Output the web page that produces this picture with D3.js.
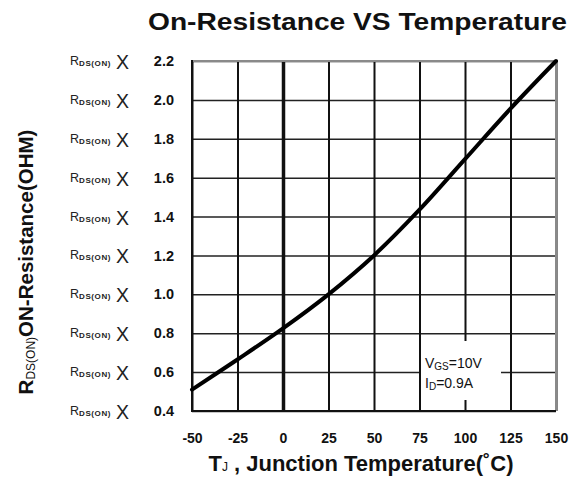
<!DOCTYPE html>
<html>
<head>
<meta charset="utf-8">
<script src="https://cdn.jsdelivr.net/npm/d3@7"></script>
<style>
	body { margin:0; background:#fff; }
	svg { display:block; font-family:"Liberation Sans", Arial, sans-serif; }
	.axis path { display:none; }
</style>
</head>
<body>
<div id="c-chart"></div>
<script>

//data
const temps = [-50, -25, 0, 25, 50, 75, 100, 125, 150];
const rdsOn = [0.51, 0.665, 0.825, 1.0, 1.2, 1.435, 1.695, 1.955, 2.2];
const xTicks = [-50, -25, 0, 25, 50, 75, 100, 125, 150];
const yTicks = [0.4, 0.6, 0.8, 1.0, 1.2, 1.4, 1.6, 1.8, 2.0, 2.2];

function chart(){

	//sizing
	let margin = {top:61, right:15, bottom:68, left:192};
	let width = 571;
	let height = 479;

	let svg = d3.select("#c-chart")
		.append("svg")
		.attr("width", width)
		.attr("height", height);

	const xScale = d3.scaleLinear()
		.domain([-50, 150])
		.range([margin.left, width-margin.right]);

	const yScale = d3.scaleLinear()
		.domain([0.4, 2.2])
		.range([height-margin.bottom, margin.top]);

	let x0 = xScale.range()[0], x1 = xScale.range()[1];
	let y0 = yScale.range()[0], y1 = yScale.range()[1];

	//horizontal grid
	svg.append("g")
		.attr("class", "axis grid-y")
		.attr("transform", `translate(${x0},0)`)
		.call(d3.axisLeft(yScale).tickValues(yTicks).tickSize(-(x1-x0)).tickFormat(""))
		.selectAll("line")
		.attr("stroke", "#222")
		.attr("stroke-width", 1.5);

	//vertical grid
	svg.append("g")
		.attr("class", "axis grid-x")
		.attr("transform", `translate(0,${y0})`)
		.call(d3.axisBottom(xScale).tickValues(xTicks).tickSize(-(y0-y1)).tickFormat(""))
		.selectAll("line")
		.attr("stroke", "#111")
		.attr("stroke-width", (d)=>{return d===0 ? 3.5 : 2;});

	//frame : top & right grey
	svg.append("line")
		.attr("x1", x0).attr("x2", x1)
		.attr("y1", y1).attr("y2", y1)
		.attr("stroke", "#8a8a8a").attr("stroke-width", 2);
	svg.append("line")
		.attr("x1", x1).attr("x2", x1)
		.attr("y1", y1).attr("y2", y0)
		.attr("stroke", "#8a8a8a").attr("stroke-width", 2);
	svg.append("line")
		.attr("x1", x0).attr("x2", x0)
		.attr("y1", y1-1).attr("y2", y0+1)
		.attr("stroke", "#111").attr("stroke-width", 2);
	svg.append("line")
		.attr("x1", x0).attr("x2", x1)
		.attr("y1", y0).attr("y2", y0)
		.attr("stroke", "#111").attr("stroke-width", 2);

	//legend box (white, covers grid)
	let bx = xScale(75)+1.5, by = 341;
	svg.append("rect")
		.attr("x", bx)
		.attr("y", by)
		.attr("width", 80)
		.attr("height", 59)
		.attr("fill", "#fff");

	let t1 = svg.append("text")
		.attr("x", bx+4)
		.attr("y", by+27)
		.attr("font-size", 14)
		.attr("fill", "#111");
	t1.append("tspan").text("V");
	t1.append("tspan").attr("font-size", 10).attr("dy", 2).text("GS");
	t1.append("tspan").attr("dy", -2).text("=10V");

	let t2 = svg.append("text")
		.attr("x", bx+4)
		.attr("y", by+47)
		.attr("font-size", 14)
		.attr("fill", "#111");
	t2.append("tspan").text("I");
	t2.append("tspan").attr("font-size", 10).attr("dy", 2).text("D");
	t2.append("tspan").attr("dy", -2).text("=0.9A");

	//curve
	let line = d3.line()
		.x((d, i)=>{return xScale(temps[i]);})
		.y((d)=>{return yScale(d);})
		.curve(d3.curveCatmullRom.alpha(0.5));

	svg.append("path")
		.datum(rdsOn)
		.attr("fill", "none")
		.attr("stroke", "#000")
		.attr("stroke-width", 4)
		.attr("stroke-linecap", "round")
		.attr("d", line);

	//x axis labels
	let xAxis = svg.append("g")
		.attr("class", "axis x_axis")
		.attr("transform", `translate(0,${y0})`)
		.call(d3.axisBottom(xScale).tickValues(xTicks).tickSize(0).tickPadding(22).tickFormat((d)=>{return String(d);}));
	xAxis.selectAll("text")
		.attr("font-size", 14)
		.attr("font-weight", "bold")
		.attr("fill", "#111")
		.attr("font-family", "Liberation Sans, Arial, sans-serif");

	//y axis labels
	let yAxis = svg.append("g")
		.attr("class", "axis y_axis")
		.attr("transform", `translate(${x0},0)`)
		.call(d3.axisLeft(yScale).tickValues(yTicks).tickSize(0).tickPadding(18).tickFormat(d3.format(".1f")));
	yAxis.selectAll("text")
		.attr("font-size", 14.5)
		.attr("font-weight", "bold")
		.attr("fill", "#111")
		.attr("font-family", "Liberation Sans, Arial, sans-serif");

	//R DS(ON) x prefix
	let pre = svg.append("g").selectAll("g")
		.data(yTicks)
		.enter()
		.append("g")
		.attr("transform", (d)=>{return `translate(0,${yScale(d)})`;});

	let rt = pre.append("text")
		.attr("x", 70)
		.attr("y", 4)
		.attr("font-size", 12.5)
		.attr("fill", "#222");
	rt.append("tspan").text("R");
	rt.append("tspan")
		.attr("font-size", 8)
		.attr("font-weight", "bold")
		.attr("letter-spacing", 0.6)
		.attr("dy", 1)
		.text("DS(ON)");

	pre.append("text")
		.attr("x", 122.5)
		.attr("y", 8)
		.attr("text-anchor", "middle")
		.attr("font-size", 19.5)
		.attr("fill", "#222")
		.text("X");

	//title
	svg.append("text")
		.attr("x", 148)
		.attr("y", 30)
		.attr("font-size", 23)
		.attr("font-weight", "bold")
		.attr("fill", "#111")
		.attr("textLength", 419)
		.attr("lengthAdjust", "spacingAndGlyphs")
		.text("On-Resistance VS Temperature");

	//x title
	let xt = svg.append("text")
		.attr("x", 361)
		.attr("y", 471)
		.attr("text-anchor", "middle")
		.attr("font-size", 22)
		.attr("font-weight", "bold")
		.attr("fill", "#111");
	xt.append("tspan").text("T");
	xt.append("tspan").attr("font-size", 12).attr("font-weight", "normal").text("J");
	xt.append("tspan").text(" , Junction Temperature(˚C)");

	//y title
	let yt = svg.append("text")
		.attr("transform", "translate(33,262) rotate(-90)")
		.attr("text-anchor", "middle")
		.attr("font-size", 20.5)
		.attr("font-weight", "bold")
		.attr("fill", "#111");
	yt.append("tspan").text("R");
	yt.append("tspan").attr("font-size", 12).attr("font-weight", "normal").attr("dy", 2).text("DS(ON)");
	yt.append("tspan").attr("dy", -2).text("ON-Resistance(OHM)");

} //function chart

chart();
</script>
</body>
</html>
